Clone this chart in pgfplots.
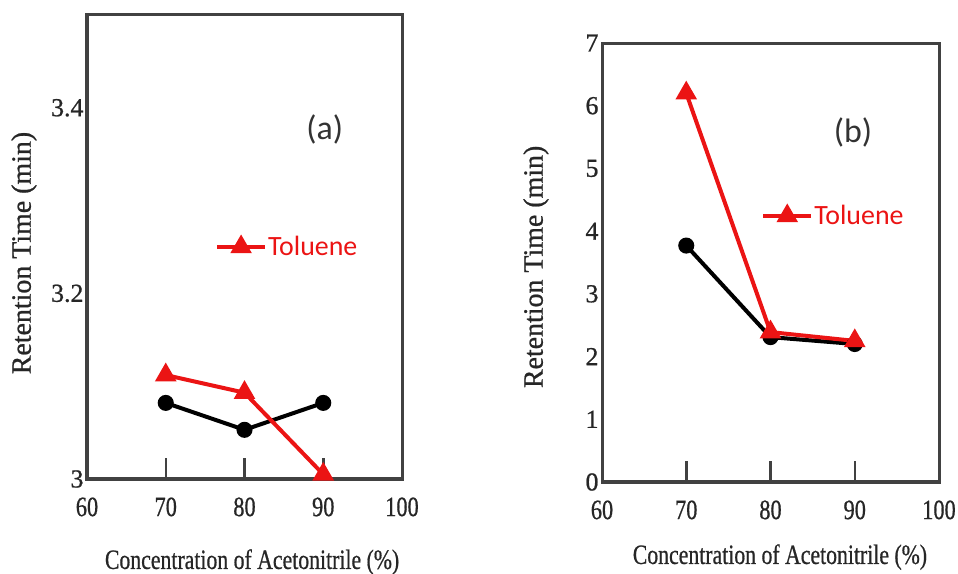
\documentclass[border=0pt]{standalone}
\usepackage{fontspec}
\setmainfont{Liberation Serif}
\newfontfamily\heavy[FakeBold=0.8]{Liberation Serif}
\newfontfamily\calib{Carlito}
\usepackage{graphicx}
\usepackage{pgfplots}
\pgfplotsset{compat=1.18}

\definecolor{frame}{RGB}{65,65,65}
\definecolor{tolred}{RGB}{235,20,20}

\pgfplotsset{
  legend image code/.code={
    \draw[mark repeat=2,mark phase=2,#1] plot coordinates {(0bp,0bp) (24bp,0bp) (48bp,0bp)};
  },
  panel/.style={
    scale only axis, anchor=south west,
    xmin=60, xmax=100, xtick={60,70,80,90,100},
    axis line style={draw=frame, line width=3bp},
    tick align=inside, xtick pos=bottom, ytick pos=left,
    major tick length=21bp,
    xtick style={draw=frame, line width=2.5bp},
    ytick style={draw=none},
    /pgf/number format/assume math mode=true,
    tick label style={font=\heavy\fontsize{26}{30}\selectfont, text=black!85},
    x tick label style={font=\heavy\fontsize{28}{30}\selectfont, yshift=-15bp},
    xticklabel={\scalebox{0.8}[1]{\pgfmathprintnumber{\tick}}},
    label style={font=\heavy\fontsize{28}{32}\selectfont, text=black!85},
    xlabel={\scalebox{0.78}[1]{Concentration of Acetonitrile (\%)}},
    ylabel={Retention Time (min)},
    legend style={draw=none, fill=none, text=tolred, inner sep=0pt,
      font=\calib\fontsize{28}{32}\selectfont,
      nodes={inner sep=1bp}},
    clip=false,
  },
  blk/.style={black, line width=4bp, mark=*, mark size=6bp, forget plot},
  redtri/.style={tolred, line width=4bp, mark=triangle*, mark size=8.5bp, mark options={solid}},
}

\begin{document}
\begin{tikzpicture}
\path[use as bounding box] (0,0) rectangle (958bp,574bp);

% (a)
\begin{axis}[panel,
    at={(87bp,95bp)}, width=315bp, height=464bp,
    ymin=3, ymax=3.5, ytick={3,3.2,3.4},
    x label style={at={(axis description cs:0.524,-0.179)}, anchor=center},
    y label style={at={(axis description cs:-0.2,0.487)}, anchor=center},
    legend style={at={(axis description cs:0.406,0.5)}, anchor=west},
]
\addplot[blk] coordinates {(70,3.082) (80,3.053) (90,3.082)};
\addplot[redtri] coordinates {(70,3.112) (80,3.093) (90,3.005)};
\addlegendentry{Toluene}
\node[font=\calib\fontsize{34}{40}\selectfont, text=black!80] at (axis cs:90.2,3.377) {(a)};
\end{axis}

% (b)
\begin{axis}[panel,
    at={(602bp,92bp)}, width=337bp, height=439bp,
    ymin=0, ymax=7, ytick={0,1,2,3,4,5,6,7},
    x label style={at={(axis description cs:0.528,-0.171)}, anchor=center},
    y label style={at={(axis description cs:-0.196,0.49)}, anchor=center},
    legend style={at={(axis description cs:0.472,0.606)}, anchor=west},
]
\addplot[blk] coordinates {(70,3.77) (80,2.31) (90,2.2)};
\addplot[redtri] coordinates {(70,6.2) (80,2.39) (90,2.25)};
\addlegendentry{Toluene}
\node[font=\calib\fontsize{34}{40}\selectfont, text=black!80] at (axis cs:89.8,5.58) {(b)};
\end{axis}
\end{tikzpicture}
\end{document}
